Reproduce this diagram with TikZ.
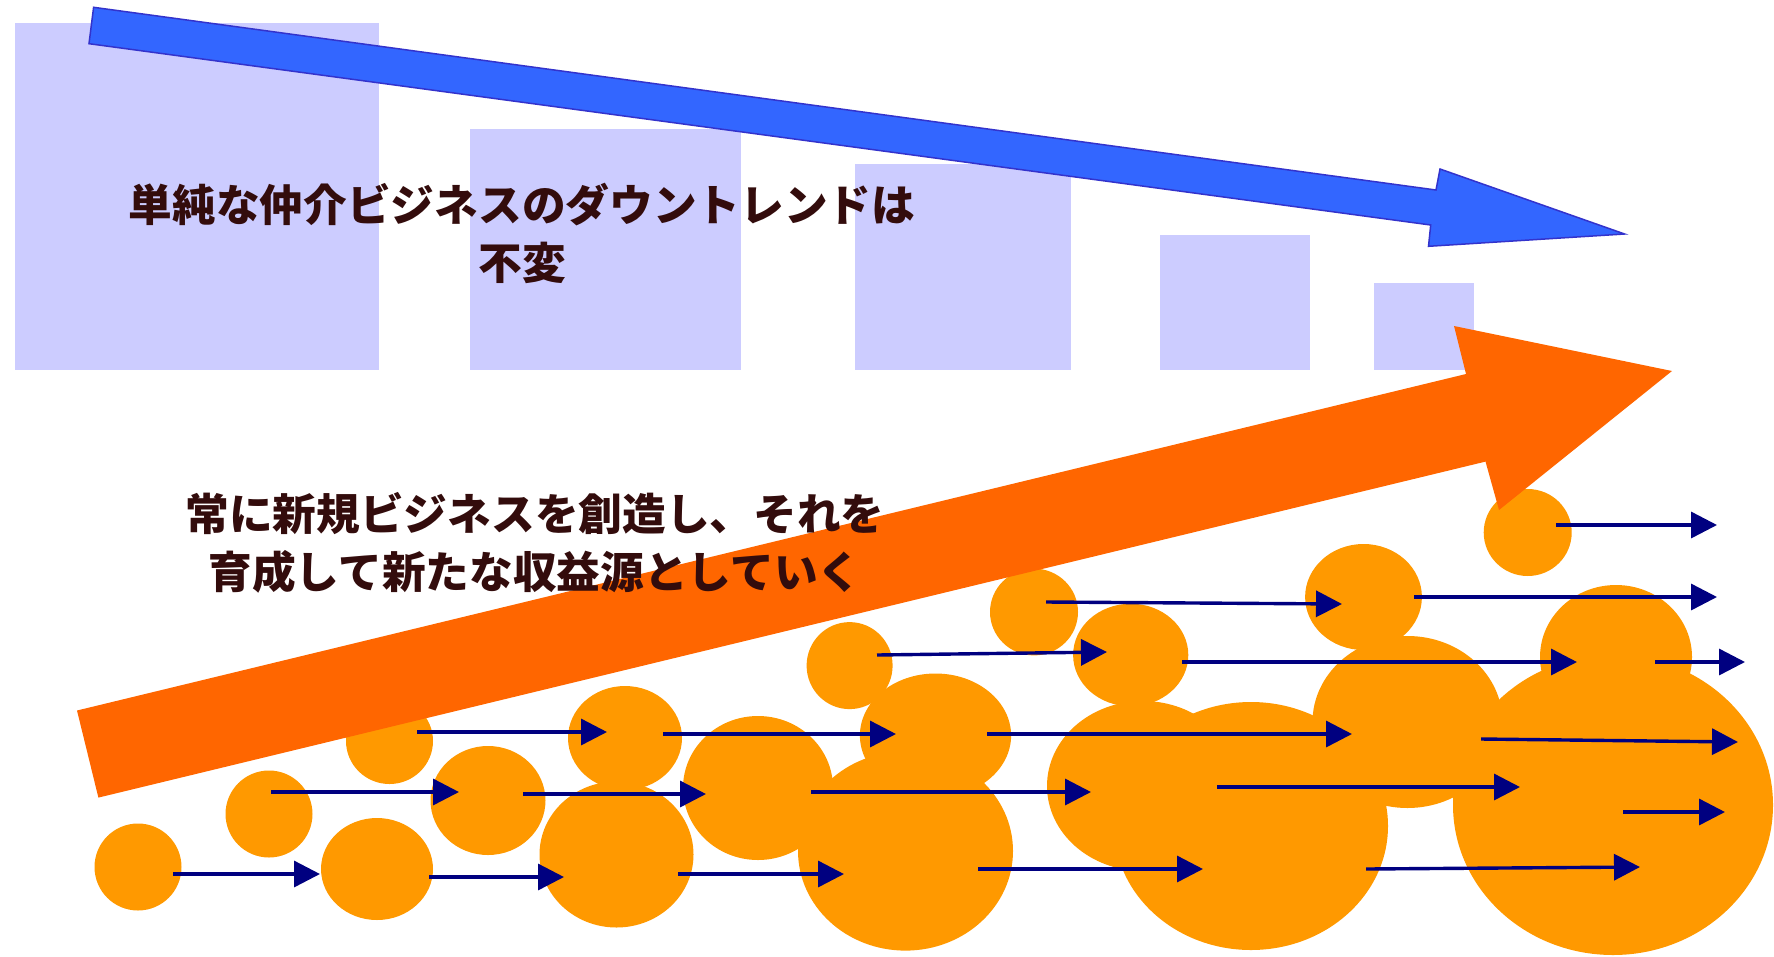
\documentclass[tikz,border=0pt]{standalone}
\usepackage{fontspec}
\usepackage{tikz}
\usetikzlibrary{arrows.meta}
\newfontfamily\jpfont{Noto Sans CJK JP}
\definecolor{barfill}{HTML}{CCCCFF}
\definecolor{downblue}{HTML}{3366FF}
\definecolor{downedge}{HTML}{3333CC}
\definecolor{upfill}{HTML}{FF6600}
\definecolor{seedfill}{HTML}{FF9900}
\definecolor{flowline}{HTML}{000080}
\definecolor{textcol}{HTML}{330C0C}

\begin{document}
\begin{tikzpicture}
  [x=1pt,y=-1pt,
   bar/.style={fill=barfill},
   seed/.style={fill=seedfill},
   flow/.style={draw=flowline,line width=3.4pt,-{Triangle[length=26pt,width=26pt]}},
   caption/.style={text=textcol,font=\jpfont\bfseries\fontsize{43.7}{58}\selectfont,align=center,inner sep=0pt}]
  \useasboundingbox (0,0) rectangle (1774,956);
  \clip (0,0) rectangle (1774,956);

  % old business, shrinking
  \foreach \xa/\ya/\xb in {15/23/379, 470/129/741, 855/164/1071, 1160/235/1310, 1374/283/1474}
    \fill[bar] (\xa,\ya) rectangle (\xb,370);

  \draw[downedge,fill=downblue,line width=1.5pt]
    (93.6,7.3) -- (1436,190) -- (1440,169) -- (1624.6,234)
    -- (1428.5,246.3) -- (1430.7,225) -- (89,43.7) -- cycle;

  \node[caption] (down) at (522,233) {単純な仲介ビジネスのダウントレンドは\\不変};

  % new businesses
  \foreach \cx/\cy/\rx/\ry in {138/867/43.5/43.5, 269/814/43.5/43.5, 389.5/741/43.5/43,
      377/869/56/51, 488/800.5/57.5/54.5, 625/738/57/52, 616.5/854.5/77/73,
      758/788/75/72, 849.6/665.6/43/43.5, 935.5/735.5/75.6/62, 905.5/851/107.5/99.6,
      1034/612/44/43.4, 1130.7/655/57.6/51.3, 1143/786/96/85, 1251/826/137/124,
      1363.5/597/58.4/53, 1407.5/722/95/86, 1527.7/532.5/44/43.5, 1616/657/76/72,
      1613/805/160/150}
    \fill[seed] (\cx,\cy) ellipse [x radius=\rx pt, y radius=\ry pt];

  \fill[upfill]
    (77,710.5) -- (1466,374) -- (1454,326) -- (1672,371)
    -- (1499,510) -- (1485.5,461.6) -- (98.4,797.6) -- cycle;

  \foreach \xa/\ya/\xb/\yb [count=\i] in {173/874/320/874, 271/792/459/792,
      417/732/607/732, 429/877/564/877, 523/794/706/794, 663/734/896/734,
      678/874/844/874, 811/792/1091/792, 877/655/1107/652, 1046/602/1342/604,
      1414/597/1717/597, 1556/525/1717/525, 1182/662/1577/662, 1655/662/1745/662,
      987/734/1352/734, 1481/739/1738/742, 1217/787/1520/787, 1623/812/1725/812,
      978/869/1203/869, 1366/869/1640/867} {
    \coordinate (from\i) at (\xa,\ya);
    \coordinate (to\i) at (\xb,\yb);
    \draw[flow] (from\i) -- (to\i);
  }

  \node[caption] (up) at (535,543) {常に新規ビジネスを創造し、それを\\育成して新たな収益源としていく};
\end{tikzpicture}
\end{document}
